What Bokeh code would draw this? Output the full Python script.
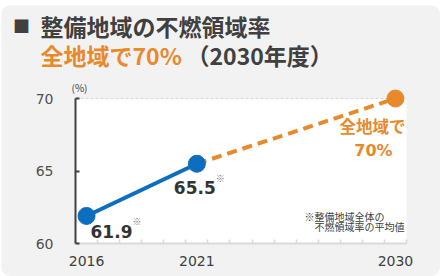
from bokeh.plotting import figure
from bokeh.models import Range1d, FixedTicker, Label, BoxAnnotation
from bokeh.embed import file_html
from bokeh.resources import INLINE

# ---- data ----
actual_years = [2016, 2021]
actual_values = [61.9, 65.5]
target_years = [2021, 2030]
target_values = [65.5, 70.0]
x_tick_years = [2016, 2021, 2030]
y_ticks = [60, 65, 70]
title_line1 = "整備地域の不燃領域率"
title_goal = "全地域で70%"
title_year = "（2030年度）"
target_label_1 = "全地域で"
target_label_2 = "70%"
note_1 = "※整備地域全体の"
note_2 = "不燃領域率の平均値"
unit_label = "(%)"

BLUE = "#0B6EBE"
ORANGE = "#E8892C"
DARK = "#404040"
PANEL = "#F2F2F2"
JP = "Noto Sans CJK JP"
NUM = "DejaVu Sans"

# ---- geometry (page pixels) ----
PX0, PY0, W, H = 1, 5, 439, 271          # rounded grey panel
AREA_L, AREA_R, AREA_T, AREA_B = 75, 406, 98, 243   # white plot area
X_MIN, X_MAX = 2015.5, 2030.5
Y_MIN, Y_MAX = y_ticks[0], y_ticks[-1]
PPX = (AREA_R - AREA_L) / (X_MAX - X_MIN)
PPY = (AREA_B - AREA_T) / (Y_MAX - Y_MIN)

x_range = Range1d(X_MIN - (AREA_L - PX0) / PPX, X_MAX + (PX0 + W - AREA_R) / PPX)
y_range = Range1d(Y_MIN - (PY0 + H - AREA_B) / PPY, Y_MAX + (AREA_T - PY0) / PPY)

p = figure(width=W, height=H, x_range=x_range, y_range=y_range,
           output_backend="svg", toolbar_location=None, min_border=0,
           background_fill_color=PANEL, border_fill_color=PANEL,
           outline_line_color=None)
p.styles = {"margin-left": f"{PX0}px", "margin-top": f"{PY0}px",
            "border-radius": "9px", "overflow": "hidden"}
p.xgrid.visible = False
p.ygrid.visible = False

# white plot area + faint dashed top edge
p.add_layout(BoxAnnotation(left=X_MIN, right=X_MAX, bottom=Y_MIN, top=Y_MAX,
                           fill_color="white", fill_alpha=1, line_color=None,
                           level="underlay"))
p.segment(x0=[X_MIN], y0=[Y_MAX], x1=[X_MAX], y1=[Y_MAX],
          line_color="#D9D9D9", line_dash="3 2", line_width=1)

# x axis
p.xaxis.fixed_location = Y_MIN
p.xaxis.bounds = (X_MIN, X_MAX)
p.xaxis.ticker = FixedTicker(ticks=x_tick_years,
                             minor_ticks=[y + 0.5 for y in range(2015, 2031)])
p.xaxis.axis_line_color = "#D9D9D9"
p.xaxis.axis_line_width = 2
p.xaxis.major_tick_line_color = None
p.xaxis.minor_tick_line_color = "#D9D9D9"
p.xaxis.minor_tick_line_width = 1.5
p.xaxis.minor_tick_in = 4
p.xaxis.minor_tick_out = 0
p.xaxis.major_label_text_font = NUM
p.xaxis.major_label_text_font_size = "14px"
p.xaxis.major_label_text_color = DARK
p.xaxis.major_label_standoff = 6

# y axis
p.yaxis.fixed_location = X_MIN
p.yaxis.bounds = (Y_MIN, Y_MAX)
p.yaxis.ticker = FixedTicker(ticks=y_ticks)
p.yaxis.axis_line_color = DARK
p.yaxis.axis_line_width = 2
p.yaxis.major_tick_line_color = DARK
p.yaxis.major_tick_line_width = 2
p.yaxis.major_tick_in = 4
p.yaxis.major_tick_out = 0
p.yaxis.minor_tick_line_color = None
p.yaxis.major_label_text_font = NUM
p.yaxis.major_label_text_font_size = "14px"
p.yaxis.major_label_text_color = "#505050"
p.yaxis.major_label_standoff = 22

# lines and points
p.line(target_years, target_values, line_color=ORANGE, line_width=4, line_dash="10 6")
p.line(actual_years, actual_values, line_color=BLUE, line_width=4)
p.scatter(actual_years, actual_values, size=17, fill_color=BLUE, line_color=BLUE)
p.scatter(target_years[-1:], target_values[-1:], size=17, fill_color=ORANGE, line_color=ORANGE)

# data labels (offsets in pixels from their point)
def dlabel(x, y, text, dx, dy, size, color, font, bold=True, align="left"):
    p.add_layout(Label(x=x, y=y, text=text, x_offset=dx, y_offset=dy,
                       text_font=font, text_font_size=size,
                       text_font_style="bold" if bold else "normal",
                       text_color=color, text_align=align, text_baseline="middle"))

dlabel(actual_years[0], actual_values[0], f"{actual_values[0]:.1f}", 4, -16, "17px", "#333333", NUM)
dlabel(actual_years[0], actual_values[0], "※", 50.5, -6, "9px", "#777777", JP, bold=False, align="center")
dlabel(actual_years[1], actual_values[1], f"{actual_values[1]:.1f}", -23, -23.5, "17px", "#333333", NUM)
dlabel(actual_years[1], actual_values[1], "※", 23.5, -15, "9px", "#777777", JP, bold=False, align="center")
dlabel(target_years[-1], target_values[-1], target_label_1, -23, -27, "16.5px", ORANGE, JP, align="center")
dlabel(target_years[-1], target_values[-1], target_label_2, -22, -52, "16px", ORANGE, NUM, align="center")

# text placed by page pixel position (frame == whole canvas)
def slabel(text, px, py, size, color, font, bold=False, align="left"):
    p.add_layout(Label(x=px - PX0, y=PY0 + H - py, x_units="screen", y_units="screen",
                       text=text, text_font=font, text_font_size=size,
                       text_font_style="bold" if bold else "normal",
                       text_color=color, text_align=align, text_baseline="middle"))

slabel("■", 21, 25, "17px", DARK, JP, bold=True, align="center")
slabel(title_line1, 40, 25, "23px", DARK, JP, bold=True)
slabel(title_goal, 40, 54, "23px", ORANGE, JP, bold=True)
slabel(title_year, 186, 54, "23px", DARK, JP, bold=True)
slabel(unit_label, 71, 86.5, "10px", DARK, JP)
slabel(note_1, 304, 215.5, "10px", DARK, JP)
slabel(note_2, 314, 226, "10px", DARK, JP)

open("out.html", "w").write(file_html(p, INLINE))
